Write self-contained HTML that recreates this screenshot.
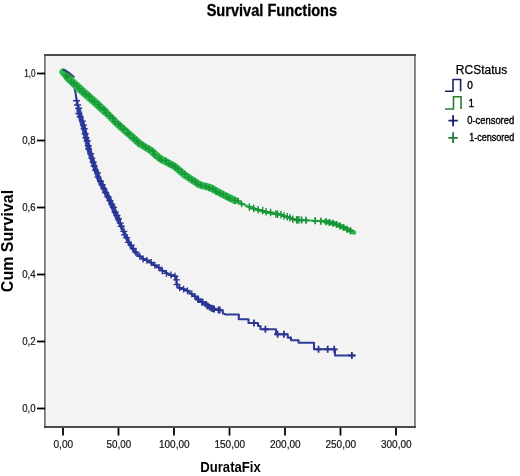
<!DOCTYPE html>
<html><head><meta charset="utf-8"><style>
html,body{margin:0;padding:0;background:#fff;}
svg{display:block;will-change:transform;}
text{font-family:"Liberation Sans",sans-serif;}
</style></head><body>
<svg width="520" height="476" viewBox="0 0 520 476">
<rect x="0" y="0" width="520" height="476" fill="#fff"/>
<text x="271.9" y="15.5" text-anchor="middle" font-weight="bold" font-size="16" textLength="130.5" lengthAdjust="spacingAndGlyphs" fill="#000" stroke="#000" stroke-width="0.3">Survival Functions</text>
<rect x="45" y="55" width="370" height="372" fill="#f3f3f3"/>
<path d="M46.3 56.5V425.5M413.7 56.5V425.5" stroke="#fafafa" stroke-width="1.2"/>
<path d="M45 55.9H415M45 426.1H415" stroke="#fafafa" stroke-width="1.2"/>
<path d="M44.9 54V428.2M414.9 54V428.2" stroke="#787878" stroke-width="1.8"/>
<path d="M44 54.9H415.8M44 427.1H415.8" stroke="#4c4c4c" stroke-width="2"/>
<g stroke="#000" stroke-width="1.8" fill="none"><path d="M63.0 428V435.5"/><path d="M118.5 428V435.5"/><path d="M174.0 428V435.5"/><path d="M229.5 428V435.5"/><path d="M285.0 428V435.5"/><path d="M340.5 428V435.5"/><path d="M396.0 428V435.5"/><path d="M37 73.5H45"/><path d="M37 140.5H45"/><path d="M37 207.5H45"/><path d="M37 274.5H45"/><path d="M37 341.5H45"/><path d="M37 408.5H45"/></g>
<g font-size="11.5" fill="#111" stroke="#111" stroke-width="0.2"><text x="63.3" y="448.3" text-anchor="middle" textLength="19.6" lengthAdjust="spacingAndGlyphs">0,00</text><text x="118.8" y="448.3" text-anchor="middle" textLength="24.6" lengthAdjust="spacingAndGlyphs">50,00</text><text x="174.3" y="448.3" text-anchor="middle" textLength="30.6" lengthAdjust="spacingAndGlyphs">100,00</text><text x="229.8" y="448.3" text-anchor="middle" textLength="30.6" lengthAdjust="spacingAndGlyphs">150,00</text><text x="285.3" y="448.3" text-anchor="middle" textLength="30.6" lengthAdjust="spacingAndGlyphs">200,00</text><text x="340.8" y="448.3" text-anchor="middle" textLength="30.6" lengthAdjust="spacingAndGlyphs">250,00</text><text x="396.3" y="448.3" text-anchor="middle" textLength="30.6" lengthAdjust="spacingAndGlyphs">300,00</text><text x="35.6" y="77.4" text-anchor="end" textLength="11.4" lengthAdjust="spacingAndGlyphs">1,0</text><text x="35.6" y="144.4" text-anchor="end" textLength="13.4" lengthAdjust="spacingAndGlyphs">0,8</text><text x="35.6" y="211.4" text-anchor="end" textLength="13.4" lengthAdjust="spacingAndGlyphs">0,6</text><text x="35.6" y="278.4" text-anchor="end" textLength="13.4" lengthAdjust="spacingAndGlyphs">0,4</text><text x="35.6" y="345.4" text-anchor="end" textLength="13.4" lengthAdjust="spacingAndGlyphs">0,2</text><text x="35.6" y="412.4" text-anchor="end" textLength="13.4" lengthAdjust="spacingAndGlyphs">0,0</text></g>
<text transform="translate(12.8,241) rotate(-90)" text-anchor="middle" font-weight="bold" font-size="16" fill="#000">Cum Survival</text>
<text x="230.5" y="472" text-anchor="middle" font-weight="bold" font-size="15" textLength="60.5" lengthAdjust="spacingAndGlyphs" fill="#000">DurataFix</text>
<g fill="none" stroke-linejoin="round" stroke-linecap="round">
<polyline points="63.0,72.0 67.0,74.0 70.5,77.5 72.8,83.0 74.6,88.5 75.6,93.0 76.3,98.0 78.7,110.0 81.0,119.0 83.5,127.0 85.4,135.0 89.0,150.0 94.0,165.0 99.3,180.0 109.7,200.0 118.4,220.0 127.6,240.0 131.5,247.0 136.4,253.6 143.0,258.4 155.0,265.2 165.0,271.9 170.0,275.0 176.3,276.5 176.5,283.0 178.0,287.5 182.6,288.5 186.8,290.2 191.0,293.6 195.2,297.0 199.4,300.3 203.6,302.8 210.0,307.7 215.0,309.4 222.7,310.5 223.0,313.6 226.0,314.5 238.8,314.5 238.8,319.3 248.5,319.3 248.5,323.0 258.0,323.0 258.0,326.0 260.5,326.0 260.5,329.3 276.0,329.3 276.0,334.3 287.7,334.3 287.7,337.6 291.0,337.6 291.0,340.2 298.6,340.2 298.6,342.7 314.0,342.7 314.0,349.3 335.0,349.3 335.0,355.5 354.6,355.5" stroke="#2f3d98" stroke-width="2.1"/>
<polyline points="78.7,110.0 81.0,119.0 83.5,127.0 85.4,135.0 89.0,150.0 94.0,165.0 99.3,180.0 109.7,200.0 118.4,220.0" stroke="#3849b4" stroke-width="5"/>
<polyline points="118.4,220.0 127.6,240.0 131.5,247.0 136.4,253.6" stroke="#3849b4" stroke-width="3.6"/>
<path d="M76.5 97.3v7.0M73.0 100.8h7.0M77.5 101.5v7.0M74.0 105.0h7.0M78.7 104.8v7.0M75.2 108.3h7.0M78.8 110.0v7.0M75.3 113.5h7.0M80.2 113.2v7.0M76.7 116.7h7.0M82.4 117.6v7.0M78.9 121.1h7.0M83.4 121.6v7.0M79.9 125.1h7.0M84.2 125.2v7.0M80.7 128.7h7.0M85.2 130.3v7.0M81.7 133.8h7.0M86.0 134.2v7.0M82.5 137.7h7.0M87.2 137.3v7.0M83.7 140.8h7.0M88.3 142.2v7.0M84.8 145.7h7.0M88.6 145.5v7.0M85.1 149.0h7.0M90.7 150.1v7.0M87.2 153.6h7.0M91.8 154.6v7.0M88.3 158.1h7.0M93.2 158.7v7.0M89.7 162.2h7.0M94.1 162.5v7.0M90.6 166.0h7.0M95.5 166.6v7.0M92.0 170.1h7.0M97.5 169.4v7.0M94.0 172.9h7.0M97.9 173.6v7.0M94.4 177.1h7.0M100.6 177.7v7.0M97.1 181.2h7.0M102.1 181.3v7.0M98.6 184.8h7.0M103.9 185.1v7.0M100.4 188.6h7.0M105.6 189.1v7.0M102.1 192.6h7.0M107.9 193.3v7.0M104.4 196.8h7.0M109.9 197.1v7.0M106.4 200.6h7.0M111.9 201.0v7.0M108.4 204.5h7.0M113.3 203.7v7.0M109.8 207.2h7.0M115.2 208.7v7.0M111.7 212.2h7.0M116.9 212.0v7.0M113.4 215.5h7.0M118.4 215.3v7.0M114.9 218.8h7.0M120.3 219.6v7.0M116.8 223.1h7.0M121.3 222.7v7.0M117.8 226.2h7.0M123.8 227.9v7.0M120.3 231.4h7.0M124.5 231.4v7.0M121.0 234.9h7.0M126.7 234.3v7.0M123.2 237.8h7.0M128.4 238.9v7.0M124.9 242.4h7.0M131.3 241.6v7.0M127.8 245.1h7.0M133.3 245.0v7.0M129.8 248.5h7.0M135.9 248.8v7.0M132.4 252.3h7.0M139.8 252.9v6.8M136.4 256.3h6.8M143.1 255.6v6.8M139.7 259.0h6.8M146.9 256.9v6.8M143.5 260.3h6.8M151.2 259.1v6.8M147.8 262.5h6.8M154.8 261.8v6.8M151.4 265.2h6.8M159.0 264.1v6.8M155.6 267.5h6.8M162.3 267.4v6.8M158.9 270.8h6.8M166.4 270.0v6.8M163.0 273.4h6.8M171.0 271.6v6.8M167.6 275.0h6.8M175.0 272.8v6.8M171.6 276.2h6.8M176.5 276.5v6.8M173.1 279.9h6.8M177.0 281.1v6.8M173.6 284.5h6.8M179.7 284.4v6.8M176.3 287.8h6.8M183.6 285.8v6.8M180.2 289.2h6.8M187.5 287.4v6.8M184.1 290.8h6.8M191.8 290.5v6.8M188.4 293.9h6.8M195.0 292.9v6.8M191.6 296.3h6.8M198.5 296.3v6.8M195.1 299.7h6.8M201.9 298.8v6.8M198.5 302.2h6.8M206.3 300.9v6.8M202.9 304.3h6.8M209.9 304.1v6.8M206.5 307.5h6.8M214.3 305.6v6.8M210.9 309.0h6.8" stroke="#283490" stroke-width="1.4" stroke-linecap="butt"/>
<path d="M198.0 295.7v7.0M194.5 299.2h7.0M202.6 298.7v7.0M199.1 302.2h7.0M207.6 302.4v7.0M204.1 305.9h7.0M211.8 304.8v7.0M208.3 308.3h7.0M213.0 305.2v7.0M209.5 308.7h7.0M218.5 306.4v7.0M215.0 309.9h7.0M219.8 306.6v7.0M216.3 310.1h7.0M254.0 319.5v7.0M250.5 323.0h7.0M265.4 325.8v7.0M261.9 329.3h7.0M277.6 330.8v7.0M274.1 334.3h7.0M283.9 330.8v7.0M280.4 334.3h7.0M318.5 345.8v7.0M315.0 349.3h7.0M327.7 345.8v7.0M324.2 349.3h7.0M334.2 345.8v7.0M330.7 349.3h7.0M351.9 352.0v7.0M348.4 355.5h7.0" stroke="#283490" stroke-width="1.8" stroke-linecap="butt"/>
<polyline points="63.0,72.0 68.0,77.8 75.0,84.5 85.0,93.5 95.0,102.3 105.0,111.5 117.0,123.5 130.0,135.0 140.0,144.0 150.0,149.8 160.0,158.5 175.0,166.7 185.0,175.2 200.0,185.0 210.0,187.5 225.0,195.6 235.0,200.5 250.0,207.3 265.0,212.0 280.0,214.4 295.0,219.8 310.0,220.5 325.0,221.5 335.0,223.7 345.0,228.2 354.0,232.5" stroke="#2abc4c" stroke-width="2.2"/>
<polyline points="63.0,72.0 68.0,77.8 75.0,84.5 85.0,93.5 95.0,102.3 105.0,111.5 117.0,123.5 130.0,135.0 140.0,144.0 150.0,149.8 160.0,158.5 175.0,166.7 185.0,175.2 200.0,185.0 210.0,187.5 225.0,195.6 235.0,200.5" stroke="#2abc4c" stroke-width="7.2"/><polyline points="68.0,77.8 75.0,84.5 85.0,93.5 95.0,102.3 105.0,111.5" stroke="#2abc4c" stroke-width="7.8"/>
<polyline points="250.0,207.3 265.0,212.0 280.0,214.4 295.0,219.8" stroke="#2abc4c" stroke-width="3"/><polyline points="325.0,221.5 335.0,223.7 345.0,228.2 354.0,232.5" stroke="#2abc4c" stroke-width="4.6"/>
<path d="M65.9 72.2v6.5M62.7 75.4h6.5M67.5 74.1v6.5M64.2 77.3h6.5M71.4 78.3v6.5M68.2 81.5h6.5M73.6 80.2v6.5M70.4 83.5h6.5M77.1 82.7v6.5M73.9 86.0h6.5M79.7 85.4v6.5M76.5 88.7h6.5M82.7 88.5v6.5M79.5 91.8h6.5M85.6 90.8v6.5M82.3 94.1h6.5M89.3 92.9v6.5M86.1 96.2h6.5M92.0 96.7v6.5M88.8 100.0h6.5M94.6 98.5v6.5M91.4 101.8h6.5M98.3 101.3v6.5M95.1 104.5h6.5M100.3 104.3v6.5M97.0 107.5h6.5M104.1 106.5v6.5M100.8 109.7h6.5M106.3 109.6v6.5M103.1 112.9h6.5M110.0 112.6v6.5M106.7 115.8h6.5M112.8 115.0v6.5M109.6 118.2h6.5M114.8 118.6v6.5M111.6 121.8h6.5M118.6 121.0v6.5M115.4 124.3h6.5M120.5 123.2v6.5M117.3 126.4h6.5M124.0 125.9v6.5M120.8 129.2h6.5M127.5 129.6v6.5M124.2 132.9h6.5M129.5 131.4v6.5M126.2 134.6h6.5M133.4 134.6v6.5M130.2 137.9h6.5M136.4 136.8v6.5M133.2 140.1h6.5M138.3 139.4v6.5M135.0 142.7h6.5M142.6 141.6v6.5M139.4 144.9h6.5M145.4 143.9v6.5M142.1 147.1h6.5M149.0 145.9v6.5M145.7 149.1h6.5M152.9 147.9v6.5M149.6 151.2h6.5M154.5 151.8v6.5M151.2 155.1h6.5M158.9 154.5v6.5M155.6 157.8h6.5M161.4 156.8v6.5M158.1 160.0h6.5M165.7 157.5v6.5M162.4 160.8h6.5M168.9 160.4v6.5M165.6 163.7h6.5M172.3 161.8v6.5M169.0 165.1h6.5M175.1 163.6v6.5M171.9 166.8h6.5M178.1 165.7v6.5M174.8 169.0h6.5M181.7 168.7v6.5M178.4 171.9h6.5M185.1 170.9v6.5M181.8 174.1h6.5M188.6 174.2v6.5M185.3 177.4h6.5M191.9 176.7v6.5M188.7 179.9h6.5M195.2 178.3v6.5M192.0 181.6h6.5M197.2 180.8v6.5M193.9 184.1h6.5M201.0 181.8v6.5M197.7 185.1h6.5M205.7 183.1v6.5M202.4 186.4h6.5M209.1 184.8v6.5M205.9 188.0h6.5M213.0 185.5v6.5M209.8 188.8h6.5M216.0 188.3v6.5M212.7 191.5h6.5M219.9 190.0v6.5M216.6 193.3h6.5M223.2 191.0v6.5M219.9 194.3h6.5M227.0 193.8v6.5M223.8 197.1h6.5M230.0 195.5v6.5M226.8 198.8h6.5M234.8 197.3v6.5M231.6 200.6h6.5M238.3 197.7v6.5M235.1 201.0h6.5M241.6 200.7v6.5M238.4 204.0h6.5M249.3 203.2v7.5M245.5 206.9h7.5M253.7 204.8v7.5M250.0 208.6h7.5M258.1 206.1v7.5M254.4 209.8h7.5M262.7 206.8v7.5M259.0 210.6h7.5M266.1 208.1v7.5M262.4 211.8h7.5M270.6 208.7v7.5M266.8 212.4h7.5M275.9 210.3v7.5M272.2 214.1h7.5M277.6 210.4v7.5M273.9 214.1h7.5M281.0 210.9v7.5M277.2 214.6h7.5M284.0 212.3v7.5M280.3 216.1h7.5M287.3 213.1v7.5M283.6 216.8h7.5M289.9 214.1v7.5M286.1 217.9h7.5M292.8 215.5v7.5M289.1 219.2h7.5M296.6 216.0v7.5M292.9 219.7h7.5M299.0 215.9v7.5M295.3 219.6h7.5" stroke="#1a9238" stroke-width="1.4" stroke-linecap="butt"/>
<path d="M297.5 216.4v7.0M294.0 219.9h7.0M301.6 216.6v7.0M298.1 220.1h7.0M306.0 216.8v7.0M302.5 220.3h7.0M315.2 217.3v7.0M311.7 220.8h7.0M320.8 217.7v7.0M317.3 221.2h7.0M326.0 218.2v7.0M322.5 221.7h7.0M329.5 219.0v7.0M326.0 222.5h7.0M333.0 219.8v7.0M329.5 223.3h7.0M336.5 220.9v7.0M333.0 224.4h7.0M340.0 222.4v7.0M336.5 225.9h7.0M343.5 224.0v7.0M340.0 227.5h7.0M347.0 225.7v7.0M343.5 229.2h7.0M350.5 227.3v7.0M347.0 230.8h7.0" stroke="#1a9238" stroke-width="1.8" stroke-linecap="butt"/>
<polyline points="63.5,70 66,70.8 69,72.8 72,75.2 73.8,76.8" stroke="#1e2f6e" stroke-width="2" opacity="0.85"/>
</g>
<text x="481.5" y="73.5" text-anchor="middle" font-size="12" fill="#000" stroke="#000" stroke-width="0.25">RCStatus</text>
<g fill="none" stroke-width="1.6">
<path d="M445 91.2H453V79.5H460.6V91.2" stroke="#1c2468"/>
<path d="M445 109H453.5V96.8H461V109" stroke="#2a7a30"/>
<path d="M453.1 115.3V126.2M448.4 120.7H457.8" stroke="#1a2270" stroke-width="1.8"/>
<path d="M453.1 132.2V143M448.4 137.8H457.8" stroke="#237a38" stroke-width="1.8"/>
</g>
<g font-size="10" fill="#000" stroke="#000" stroke-width="0.35">
<text x="467.3" y="88.5">0</text>
<text x="468.5" y="107">1</text>
<text x="467.2" y="123.8" textLength="47" lengthAdjust="spacingAndGlyphs">0-censored</text>
<text x="469.2" y="140.9" textLength="45" lengthAdjust="spacingAndGlyphs">1-censored</text>
</g>
</svg>
</body></html>
